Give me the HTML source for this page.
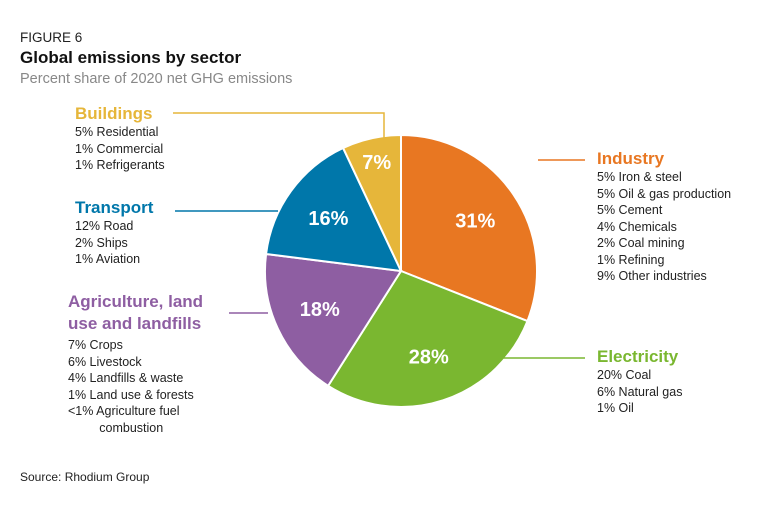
<!DOCTYPE html>
<html><head><meta charset="utf-8"><style>
body{margin:0;width:768px;height:512px;background:#fff;font-family:"Liberation Sans",sans-serif;overflow:hidden;position:relative;color:#222}
.a{position:absolute;white-space:nowrap}
.h{font-weight:bold;font-size:17px}
.l{font-size:12.5px;line-height:16.5px}
</style></head><body>
<div class="a" style="left:20px;top:30px;font-size:13.5px">FIGURE 6</div>
<div class="a" style="left:20px;top:48px;font-size:17px;font-weight:bold;color:#111">Global emissions by sector</div>
<div class="a" style="left:20px;top:71px;font-size:14.5px;color:#888">Percent share of 2020 net GHG emissions</div>
<svg id="pie" width="768" height="512" style="position:absolute;left:0;top:0"></svg>
<div class="a" style="left:75px;top:104px"><div class="h" style="color:#E6B63A">Buildings</div><div class="l">5% Residential<br>1% Commercial<br>1% Refrigerants</div></div>
<div class="a" style="left:75px;top:198px"><div class="h" style="color:#0077AA">Transport</div><div class="l">12% Road<br>2% Ships<br>1% Aviation</div></div>
<div class="a" style="left:68px;top:291px"><div class="h" style="color:#8E5EA2;line-height:22px">Agriculture, land<br>use and landfills</div><div class="l" style="margin-top:2px">7% Crops<br>6% Livestock<br>4% Landfills &amp; waste<br>1% Land use &amp; forests<br>&lt;1% Agriculture fuel<br>&nbsp;&nbsp;&nbsp;&nbsp;&nbsp;&nbsp;&nbsp;&nbsp;&nbsp;combustion</div></div>
<div class="a" style="left:597px;top:149px"><div class="h" style="color:#E87722">Industry</div><div class="l">5% Iron &amp; steel<br>5% Oil &amp; gas production<br>5% Cement<br>4% Chemicals<br>2% Coal mining<br>1% Refining<br>9% Other industries</div></div>
<div class="a" style="left:597px;top:347px"><div class="h" style="color:#7AB730">Electricity</div><div class="l">20% Coal<br>6% Natural gas<br>1% Oil</div></div>
<div class="a" style="left:20px;top:470px;font-size:12px">Source: Rhodium Group</div>
<script>
const categories=["Industry","Electricity","Agriculture","Transport","Buildings"];
const values=[31,28,18,16,7];
const colors=["#E87722","#7AB730","#8E5EA2","#0077AA","#E6B63A"];
const svg=document.getElementById('pie');
const NS="http://www.w3.org/2000/svg";
const cx=401,cy=271,r=136;
const total=values.reduce((a,b)=>a+b,0);
function pt(frac,rad){const a=frac*2*Math.PI;return [cx+rad*Math.sin(a),cy-rad*Math.cos(a)];}
let cum=0;
values.forEach((v,i)=>{
  const s=cum/total,e=(cum+v)/total;cum+=v;
  const p0=pt(s,r),p1=pt(e,r);
  const path=document.createElementNS(NS,'path');
  path.setAttribute('d',`M${cx},${cy}L${p0[0]},${p0[1]}A${r},${r} 0 ${e-s>0.5?1:0} 1 ${p1[0]},${p1[1]}Z`);
  path.setAttribute('fill',colors[i]);path.setAttribute('stroke','#fff');path.setAttribute('stroke-width','2');
  
  
  svg.appendChild(path);
  const m=(s+e)/2;const lp=pt(m,v<10?r*0.82:r*0.66);
  const t=document.createElementNS(NS,'text');
  t.setAttribute('x',lp[0]);t.setAttribute('y',lp[1]+7);t.setAttribute('text-anchor','middle');
  t.setAttribute('fill','#fff');t.setAttribute('font-weight','bold');t.setAttribute('font-size','20');
  t.setAttribute('font-family','Liberation Sans, sans-serif');
  t.textContent=v+'%';
  
  
  svg.appendChild(t);
});
const leaders=[["#E6B63A","M173,113H384V138"],["#E87722","M538,160H585"],["#0077AA","M175,211H278"],["#8E5EA2","M229,313H268"],["#7AB730","M483,358H585"]];
leaders.forEach((l,i)=>{
  const p=document.createElementNS(NS,'path');
  p.setAttribute('d',l[1]);p.setAttribute('stroke',l[0]);p.setAttribute('stroke-width','1.5');p.setAttribute('fill','none');
  
  
  svg.appendChild(p);
});
</script>
</body></html>
